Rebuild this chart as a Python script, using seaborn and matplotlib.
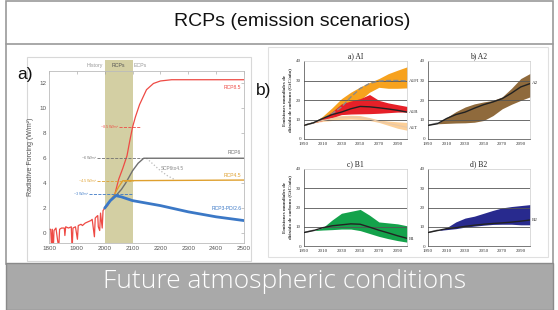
import numpy as np
import pandas as pd
import matplotlib
matplotlib.use("Agg")
import matplotlib.pyplot as plt
from matplotlib.patches import Rectangle
import seaborn as sns

W, H = 558, 310

# ---- panel a) radiative forcing (W/m2) ----
hist_years = [1800, 1806, 1809, 1812, 1815, 1818, 1825, 1831, 1835, 1838, 1845, 1855, 1857,
              1860, 1870, 1880, 1883, 1886, 1895, 1902, 1905, 1915, 1920, 1930, 1940, 1950,
              1955, 1963, 1966, 1970, 1975, 1977, 1982, 1985, 1991, 1994, 2000]
hist_rf = [0.3, 0.3, -1.0, 0.3, -1.5, 0.2, 0.4, -0.6, -1.2, 0.3, 0.4, 0.4, -0.2,
           0.5, 0.4, 0.5, -1.4, 0.4, 0.5, -0.5, 0.6, 0.7, 0.6, 0.8, 0.9, 1.0,
           1.1, -0.3, 1.2, 1.3, 1.4, 0.5, 0.2, 1.6, 0.4, 1.8, 2.0]
rcp85_years = [2000, 2010, 2020, 2035, 2050, 2065, 2080, 2090, 2100, 2110, 2125, 2150, 2175, 2200, 2240, 2500]
rcp85_rf = [2.0, 2.2, 2.6, 3.0, 4.3, 5.2, 6.2, 7.4, 8.5, 9.3, 10.3, 11.5, 12.0, 12.2, 12.3, 12.3]
rcp6_years = [2000, 2020, 2040, 2060, 2075, 2100, 2120, 2140, 2500]
rcp6_rf = [2.0, 2.6, 3.0, 3.5, 4.0, 5.0, 5.6, 6.0, 6.0]
rcp45_years = [2000, 2020, 2035, 2050, 2065, 2500]
rcp45_rf = [2.0, 2.6, 3.1, 3.7, 4.2, 4.25]
scp_years = [2150, 2175, 2200, 2225, 2250]
scp_rf = [6.0, 5.5, 5.0, 4.6, 4.3]
rcp26_years = [2000, 2020, 2040, 2060, 2080, 2100, 2150, 2200, 2300, 2400, 2500]
rcp26_rf = [2.0, 2.6, 3.0, 2.9, 2.75, 2.6, 2.4, 2.2, 1.7, 1.3, 1.0]

level_labels = ["~8.5 W/m²", "~6 W/m²", "~4.5 W/m²", "~3 W/m²"]
level_values = [8.5, 6.0, 4.2, 3.1]
level_start = [2050, 1972, 1972, 1942]
level_end = [2125, 2150, 2100, 2100]

# ---- panel b) SRES CO2 emissions (GtC/yr) ----
sres_years = [1990, 2000, 2010, 2020, 2030, 2040, 2050, 2060, 2070, 2080, 2090, 2100]
a1fi_hi = [7, 8.3, 11.7, 16, 20.7, 24, 26.7, 29, 31, 33.5, 35.3, 37]
a1fi_lo = [7, 8.3, 9.5, 11, 13, 16, 20, 24, 26.5, 26, 26, 26.2]
a1fi_mid = [7, 8.3, 10.5, 13, 16.4, 21.5, 25.9, 28.5, 29.7, 30, 30, 29.8]
a1b_hi = [7, 8.3, 10.5, 14, 18, 19.5, 20.7, 22.8, 19.8, 18.5, 17.6, 16.7]
a1b_lo = [7, 8.3, 9.5, 11, 12.5, 12.8, 12.9, 13, 13.2, 13.5, 13.8, 13.8]
a1b_mid = [7, 8.3, 10.5, 12.5, 13.8, 15.5, 16.7, 16.5, 16, 15.4, 14.7, 13.8]
a1t_hi = [7, 8.3, 10, 11.5, 12, 12.2, 12, 11, 9.8, 9.2, 8.8, 8.5]
a1t_lo = [7, 8.3, 9, 9.5, 10, 10.2, 10, 9.5, 8.5, 7, 5.5, 4.5]
a1t_mid = [7, 8.3, 9.5, 10.5, 11, 11.2, 11, 10.2, 9, 8, 7, 6]
a2_hi = [7, 7.8, 11, 14, 16.4, 18, 19, 19.8, 21.6, 26, 31, 33.6]
a2_lo = [7, 7.8, 8, 8.2, 8.3, 8.6, 9.5, 12, 15.5, 17.8, 19.8, 21.6]
a2_mid = [7, 7.8, 10.5, 12.5, 13.8, 15.8, 17.6, 19, 20.7, 23.5, 26.7, 28.4]
b1_hi = [7, 8, 9.5, 13.5, 17, 18, 19, 16, 12.5, 12, 11.5, 10.5]
b1_lo = [7, 8, 8.3, 8.5, 8.8, 8.8, 8, 6.5, 5, 3.8, 2.8, 2]
b1_mid = [7, 8, 9.5, 10.5, 11, 11.5, 11.3, 9.8, 8.2, 6.8, 5.3, 4]
b2_hi = [7, 8, 9.5, 12.5, 14.5, 15.5, 17, 18.5, 19.8, 20.5, 21, 21.5]
b2_lo = [7, 8, 8.5, 9, 9.8, 10.3, 10.8, 11.2, 11.3, 11.3, 11, 11]
b2_mid = [7, 8, 9, 9.5, 10.2, 10.8, 11.3, 11.7, 12, 12.4, 12.9, 13.5]

sns.set_theme(style="white")
plt.rcParams["font.family"] = ["Liberation Sans", "DejaVu Sans"]

fig = plt.figure(figsize=(W / 100, H / 100), dpi=100)


def box(l, t, r, b):
    return [l / W, 1 - b / H, (r - l) / W, (b - t) / H]


# background frame, header and footer
bg = fig.add_axes([0, 0, 1, 1])
bg.set_xlim(0, W)
bg.set_ylim(H, 0)
bg.axis("off")
bg.add_patch(Rectangle((6, 0.5), 547, 263, fc="white", ec="#9a9a9a", lw=1.2))
bg.plot([6, 553], [44, 44], color="#9a9a9a", lw=1.2)
bg.add_patch(Rectangle((6, 263), 547, 47, fc="#a9a9a9", ec="#8a8a8a", lw=1))
bg.text(292, 22, "RCPs (emission scenarios)", ha="center", va="center", fontsize=14, color="#111111")
bg.text(285, 281, "Future atmospheric conditions", ha="center", va="center", fontsize=19,
        color="white", family=["Open Sans", "DejaVu Sans"], fontweight="light")
bg.add_patch(Rectangle((27, 57), 224, 204, fc="white", ec="#d8d8d8", lw=0.8))
bg.add_patch(Rectangle((268, 47), 280, 210, fc="white", ec="#e0e0e0", lw=0.8))
bg.text(17, 75, "a)", fontsize=12.5, va="center", color="#111111")
bg.text(256, 90, "b)", fontsize=12.5, va="center", color="#111111")

# ---- panel a ----
ax = fig.add_axes(box(49, 71, 244, 243))
ax.add_patch(Rectangle((2000, -0.8), 100, 14.7, fc="#d3cfa3", ec="none", clip_on=False, zorder=0))
red, grey, orange, blue = "#ee4a44", "#707070", "#dfa02e", "#3b78c6"
sns.lineplot(x=hist_years, y=hist_rf, ax=ax, color=red, lw=0.9)
sns.lineplot(x=rcp85_years, y=rcp85_rf, ax=ax, color=red, lw=0.9)
sns.lineplot(x=scp_years, y=scp_rf, ax=ax, color="#bbbbbb", lw=0.9, linestyle=":")
sns.lineplot(x=rcp6_years, y=rcp6_rf, ax=ax, color=grey, lw=1.0)
sns.lineplot(x=rcp45_years, y=rcp45_rf, ax=ax, color=orange, lw=1.0)
sns.lineplot(x=rcp26_years, y=rcp26_rf, ax=ax, color=blue, lw=2.0)
for lab, v, x0, x1, c in zip(level_labels, level_values, level_start, level_end, [red, grey, orange, blue]):
    ax.plot([x0, x1], [v, v], color=c, lw=0.6, ls="--")
    ax.text(x0 - 3, v, lab, color=c, fontsize=2.6, ha="right", va="center")
ax.text(2490, 11.7, "RCP8.5", color=red, fontsize=3.6, ha="right", va="center")
ax.text(2490, 6.45, "RCP6", color=grey, fontsize=3.6, ha="right", va="center")
ax.text(2200, 5.2, "SCP6to4.5", color="#888888", fontsize=3.4, ha="left", va="center")
ax.text(2490, 4.65, "RCP4.5", color=orange, fontsize=3.6, ha="right", va="center")
ax.text(2490, 2.0, "RCP3-PD/2.6", color=blue, fontsize=3.6, ha="right", va="center")
ax.text(1995, 13.45, "History", color="#999999", fontsize=3.8, ha="right", va="center")
ax.text(2050, 13.45, "RCPs", color="#555555", fontsize=3.8, ha="center", va="center")
ax.text(2105, 13.45, "ECPs", color="#999999", fontsize=3.8, ha="left", va="center")
ax.set_xlim(1800, 2500)
ax.set_ylim(-0.8, 13)
ax.set_xticks(range(1800, 2501, 100))
ax.set_yticks(range(0, 13, 2))
ax.tick_params(direction="in", length=2, width=0.4, top=True, right=True,
               labelsize=4.5, labelcolor="#555555", color="#999999", pad=2)
ax.set_ylabel("Radiative Forcing (W/m²)", fontsize=5, color="#555555", labelpad=4)
for s in ax.spines.values():
    s.set_color("#bbbbbb")
    s.set_linewidth(0.6)

# ---- panel b: four SRES families ----
serif = ["Liberation Serif", "DejaVu Serif"]
sub = [
    ("a) AI", (304, 61, 407, 139), True),
    ("b) A2", (428, 61, 530, 139), False),
    ("c) B1", (304, 169, 407, 246), True),
    ("d) B2", (428, 169, 530, 246), False),
]
bands = [
    [(a1fi_lo, a1fi_hi, "#f7a21e"), (a1t_lo, a1t_hi, "#fccf98"), (a1b_lo, a1b_hi, "#e62028")],
    [(a2_lo, a2_hi, "#8f6a3c")],
    [(b1_lo, b1_hi, "#14a24b")],
    [(b2_lo, b2_hi, "#282a8e")],
]
mids = [
    [(a1fi_mid, "#8a8a8a", "--", 1.0), (a1t_mid, "#e8c8a8", "-", 0.8), (a1b_mid, "#222222", "-", 1.0)],
    [(a2_mid, "#222222", "-", 1.0)],
    [(b1_mid, "#222222", "-", 1.0)],
    [(b2_mid, "#222222", "-", 1.0)],
]
end_labels = [
    [("A1FI", 30), ("A1B", 14), ("A1T", 5.5)],
    [("A2", 28.5)],
    [("B1", 3.5)],
    [("B2", 13.5)],
]
for (title, rect, show_ylabel), bnd, mid, labs in zip(sub, bands, mids, end_labels):
    bx = fig.add_axes(box(*rect))
    for lo, hi, c in bnd:
        bx.fill_between(sres_years, lo, hi, color=c, lw=0, zorder=1)
    for yv in [10, 20, 30]:
        bx.axhline(yv, color="#555555", lw=0.6, zorder=2)
    bx.plot([1990, 2000], [7, 8.2], color="#999999", lw=1.0, zorder=3)
    for m, c, ls, lw in mid:
        sns.lineplot(x=sres_years, y=m, ax=bx, color=c, linestyle=ls, lw=lw, zorder=3)
    for lab, yv in labs:
        bx.text(2102, yv, lab, fontsize=3.6, family=serif, va="center", color="#333333")
    bx.set_xlim(1990, 2100)
    bx.set_ylim(0, 40)
    bx.set_xticks(range(1990, 2091, 20))
    bx.set_yticks(range(0, 41, 10))
    bx.tick_params(direction="out", length=1.2, width=0.4, labelsize=3.6, pad=1, colors="#333333")
    for lbl in bx.get_xticklabels() + bx.get_yticklabels():
        lbl.set_family(serif)
    bx.set_title(title, fontsize=5.5, family=serif, pad=2, color="#222222")
    if show_ylabel:
        bx.set_ylabel("Emisiones mundiales de\ndióxido de carbono (GtC/año)", fontsize=3.6,
                      family=serif, fontweight="bold", labelpad=3, color="#333333")
    for side in ["left", "bottom"]:
        bx.spines[side].set_color("#444444")
        bx.spines[side].set_linewidth(0.5)
    for side in ["top", "right"]:
        bx.spines[side].set_color("#cccccc")
        bx.spines[side].set_linewidth(0.5)

fig.savefig("out.png", dpi=100)
